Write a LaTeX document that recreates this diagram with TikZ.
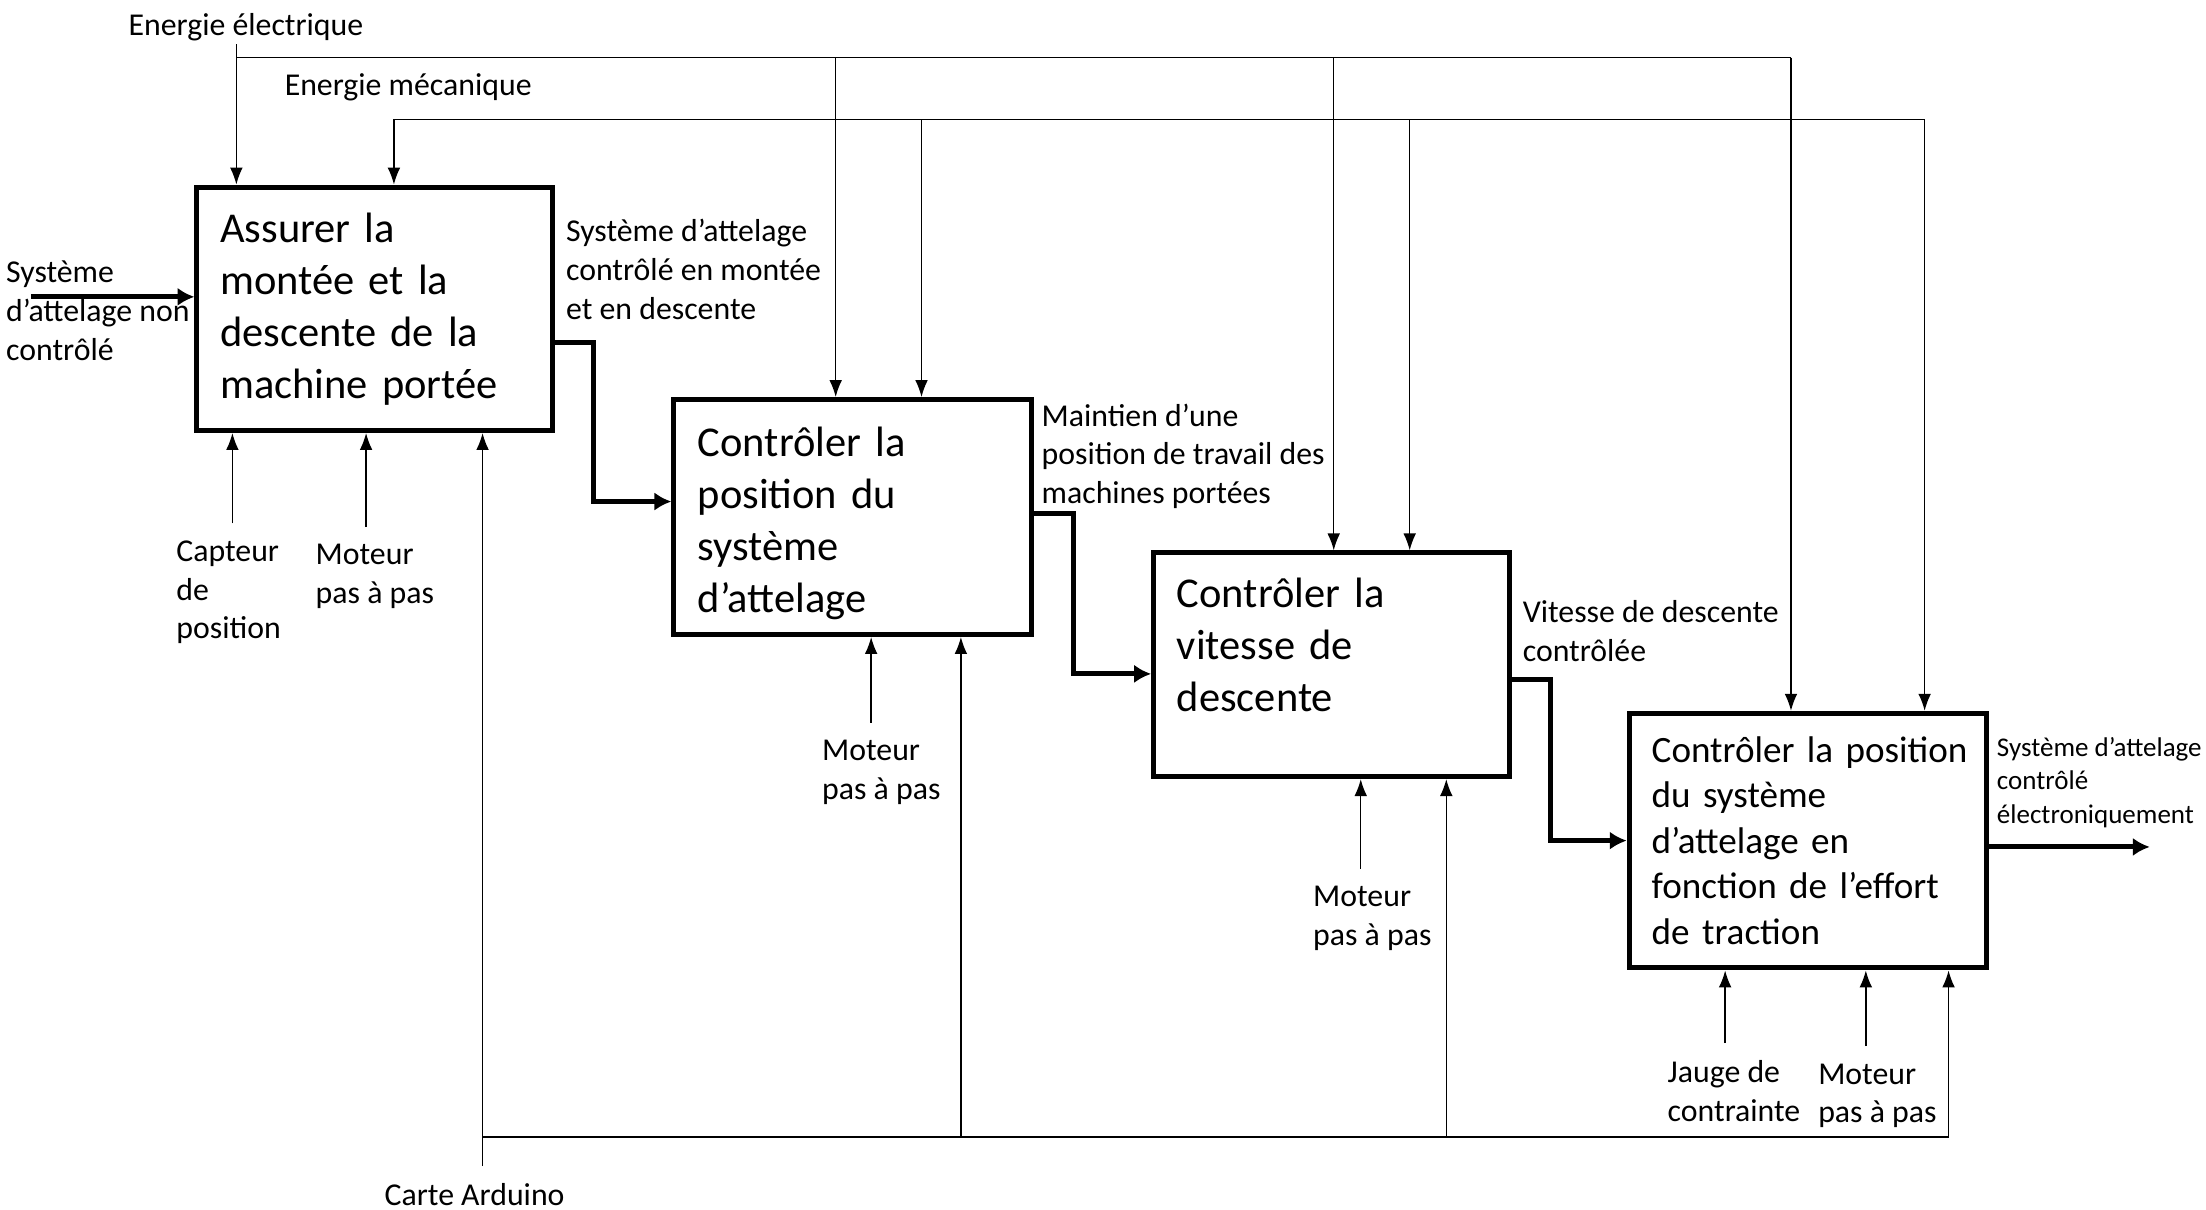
\documentclass[tikz,border=0pt]{standalone}
\usepackage{fontspec}
\setmainfont{Carlito}
\usepackage{tikz}
\usetikzlibrary{arrows.meta, positioning, calc}
\tikzstyle{activity} = [rectangle, draw=black, line width=1.8pt, align=left, inner xsep=8pt, font=\fontsize{15.1}{18.5}\selectfont]
\tikzstyle{lbl} = [align=left, anchor=base west, inner xsep=0pt, inner ysep=6pt, font=\fontsize{11.3}{13.75}\selectfont]
\tikzstyle{flow} = [line width=1.8pt, -{Latex[length=6pt,width=6.5pt]}]
\tikzstyle{ctrl} = [line width=0.5pt, -{Latex[length=6pt,width=4.5pt]}]
\tikzstyle{bus} = [line width=0.5pt]

\begin{document}
\begin{tikzpicture}[x=0.5pt, y=-0.5pt]
            \useasboundingbox (0,0) rectangle (1568,860);
            % Activities
            \node (assurer) [activity, minimum width=126.5pt, minimum height=86.5pt, text width=110pt] at (266.5,219.5) {Assurer la\\montée et la\\descente de la\\machine portée};
            \node (posit) [activity, minimum width=127pt, minimum height=83.5pt, text width=110pt] at (606,367.5) {\mbox{}\\[-3.5pt]Contrôler la\\position du\\système\\d’attelage};
            \node (vitesse) [activity, minimum width=126.5pt, minimum height=79.5pt, text width=110pt] at (946.5,472.5) {Contrôler la\\vitesse de\\descente\\[-4.5pt]\mbox{}};
            \node (effort) [activity, minimum width=127pt, minimum height=90.5pt, text width=111pt, font=\fontsize{13.2}{16.15}\selectfont] at (1285,597.5) {\mbox{Contrôler la position}\\du système\\d’attelage en\\fonction de l’effort\\de traction};

            % Labels
            \node (elec) [lbl, inner ysep=1pt] at (91,25) {Energie électrique};
            \node (meca) [lbl] at (202,68) {Energie mécanique};
            \node (entree) [lbl] at (4,256) {Système\\d’attelage non\\contrôlé};
            \node (sortie1) [lbl] at (402,227) {Système d’attelage\\contrôlé en montée\\et en descente};
            \node (sortie2) [lbl] at (740,358) {Maintien d’une\\position de travail des\\machines portées};
            \node (sortie3) [lbl] at (1082,470) {Vitesse de descente\\contrôlée};
            \node (sortie4) [lbl, font=\fontsize{9.6}{11.75}\selectfont] at (1419,585) {Système d’attelage\\contrôlé\\électroniquement};
            \node (capteur) [lbl] at (125,454) {Capteur\\de\\position};
            \node (moteur1) [lbl] at (224,429) {Moteur\\pas à pas};
            \node (moteur2) [lbl] at (584,568) {Moteur\\pas à pas};
            \node (moteur3) [lbl] at (933,672) {Moteur\\pas à pas};
            \node (jauge) [lbl] at (1185,797) {Jauge de\\contrainte};
            \node (moteur4) [lbl] at (1292,798) {Moteur\\pas à pas};
            \node (arduino) [lbl] at (273,857) {Carte Arduino};

            % Main flow
            \coordinate (entreeA) at (22,211);
            \coordinate (sortieA) at (1528,602);
            \draw [flow] (entreeA) -- (entreeA -| assurer.west);
            \draw [flow] ($(assurer.east)+(0,24)$) -- ++(27,0) |- ($(posit.west)+(0,-11)$);
            \draw [flow] ($(posit.east)+(0,-2.5)$) -- ++(28,0) |- ($(vitesse.west)+(0,6.5)$);
            \draw [flow] ($(vitesse.east)+(0,10.5)$) -- ++(27,0) |- ($(effort.west)+(0,0)$);
            \draw [flow] (sortieA -| effort.east) -- (sortieA);

            % Energie electrique
            \coordinate (e1) at (168,41);
            \coordinate (e2) at (594,41);
            \coordinate (e3) at (948,41);
            \coordinate (e4) at (1273,41);
            \draw [ctrl] (elec.south -| e1) -- (e1 |- assurer.north);
            \draw [bus] (e1) -- (e4);
            \draw [ctrl] (e2) -- (e2 |- posit.north);
            \draw [ctrl] (e3) -- (e3 |- vitesse.north);
            \draw [ctrl] (e4) -- (e4 |- effort.north);

            % Energie mecanique
            \coordinate (m1) at (280,85);
            \coordinate (m2) at (655,85);
            \coordinate (m3) at (1002,85);
            \coordinate (m4) at (1368,85);
            \draw [ctrl] (m4) -- (m1) -- (m1 |- assurer.north);
            \draw [ctrl] (m2) -- (m2 |- posit.north);
            \draw [ctrl] (m3) -- (m3 |- vitesse.north);
            \draw [ctrl] (m4) -- (m4 |- effort.north);

            % Supports
            \coordinate (s1) at ($(assurer.south west)+(27,0)$);
            \coordinate (s2) at ($(assurer.south west)+(122,0)$);
            \coordinate (s3) at ($(posit.south west)+(142,0)$);
            \coordinate (s4) at ($(vitesse.south west)+(149,0)$);
            \coordinate (s5) at ($(effort.south west)+(70,0)$);
            \coordinate (s6) at ($(effort.south west)+(170,0)$);
            \draw [ctrl] (capteur.north -| s1) -- (s1);
            \draw [ctrl] (moteur1.north -| s2) -- (s2);
            \draw [ctrl] (moteur2.north -| s3) -- (s3);
            \draw [ctrl] (moteur3.north -| s4) -- (s4);
            \draw [ctrl] (jauge.north -| s5) -- (s5);
            \draw [ctrl] (moteur4.north -| s6) -- (s6);

            % Carte Arduino
            \coordinate (a1) at (343,808);
            \coordinate (a2) at (683,808);
            \coordinate (a3) at (1028,808);
            \coordinate (a4) at (1385,808);
            \draw [bus, line width=0.75pt] (a1) -- (a4);
            \draw [ctrl] (arduino.north -| a1) -- (a1 |- assurer.south);
            \draw [ctrl] (a2) -- (a2 |- posit.south);
            \draw [ctrl] (a3) -- (a3 |- vitesse.south);
            \draw [ctrl] (a4) -- (a4 |- effort.south);
        \end{tikzpicture}
\end{document}
